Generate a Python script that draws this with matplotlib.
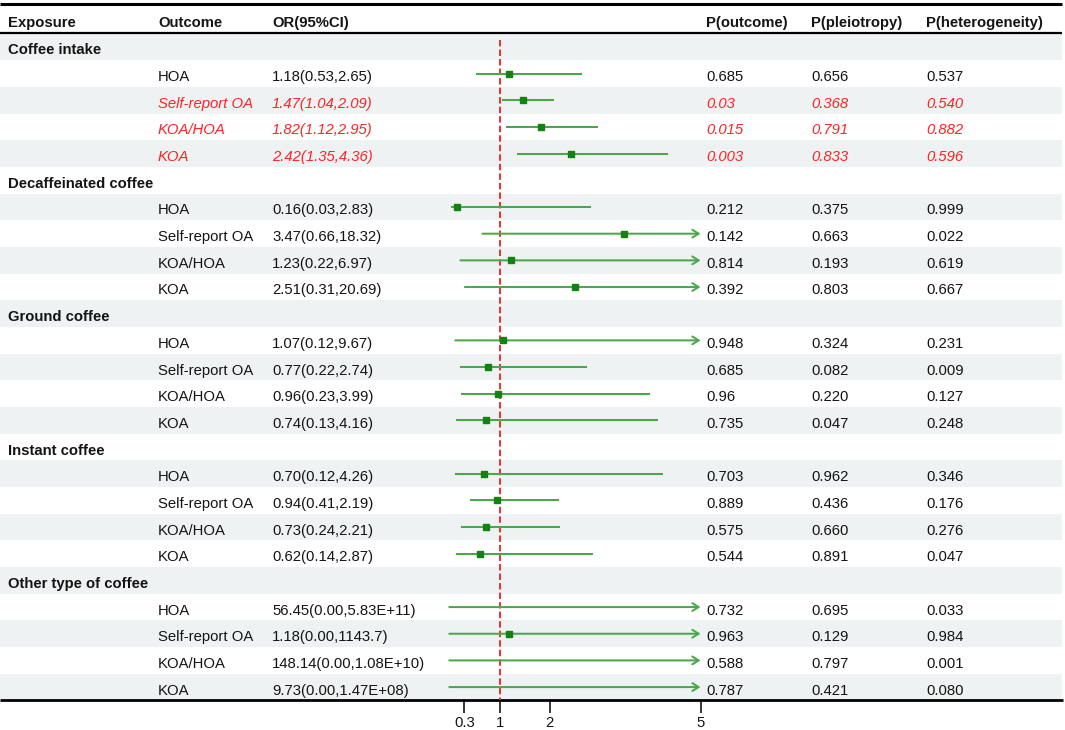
import matplotlib
matplotlib.use("Agg")
import matplotlib.pyplot as plt
import numpy as np

# ---------------- data ----------------
exposures = ["Coffee intake", "Decaffeinated coffee", "Ground coffee",
             "Instant coffee", "Other type of coffee"]
outcomes = ["HOA", "Self-report OA", "KOA/HOA", "KOA"]

or_est = [1.18, 1.47, 1.82, 2.42,
          0.16, 3.47, 1.23, 2.51,
          1.07, 0.77, 0.96, 0.74,
          0.70, 0.94, 0.73, 0.62,
          56.45, 1.18, 148.14, 9.73]
ci_low = [0.53, 1.04, 1.12, 1.35,
          0.03, 0.66, 0.22, 0.31,
          0.12, 0.22, 0.23, 0.13,
          0.12, 0.41, 0.24, 0.14,
          0.00, 0.00, 0.00, 0.00]
ci_high = [2.65, 2.09, 2.95, 4.36,
           2.83, 18.32, 6.97, 20.69,
           9.67, 2.74, 3.99, 4.16,
           4.26, 2.19, 2.21, 2.87,
           5.83e11, 1143.7, 1.08e10, 1.47e8]
ci_text = ["1.18(0.53,2.65)", "1.47(1.04,2.09)", "1.82(1.12,2.95)", "2.42(1.35,4.36)",
           "0.16(0.03,2.83)", "3.47(0.66,18.32)", "1.23(0.22,6.97)", "2.51(0.31,20.69)",
           "1.07(0.12,9.67)", "0.77(0.22,2.74)", "0.96(0.23,3.99)", "0.74(0.13,4.16)",
           "0.70(0.12,4.26)", "0.94(0.41,2.19)", "0.73(0.24,2.21)", "0.62(0.14,2.87)",
           "56.45(0.00,5.83E+11)", "1.18(0.00,1143.7)", "148.14(0.00,1.08E+10)",
           "9.73(0.00,1.47E+08)"]
p_outcome = ["0.685", "0.03", "0.015", "0.003",
             "0.212", "0.142", "0.814", "0.392",
             "0.948", "0.685", "0.96", "0.735",
             "0.703", "0.889", "0.575", "0.544",
             "0.732", "0.963", "0.588", "0.787"]
p_pleiotropy = ["0.656", "0.368", "0.791", "0.833",
                "0.375", "0.663", "0.193", "0.803",
                "0.324", "0.082", "0.220", "0.047",
                "0.962", "0.436", "0.660", "0.891",
                "0.695", "0.129", "0.797", "0.421"]
p_heterogeneity = ["0.537", "0.540", "0.882", "0.596",
                   "0.999", "0.022", "0.619", "0.667",
                   "0.231", "0.009", "0.127", "0.248",
                   "0.346", "0.176", "0.276", "0.047",
                   "0.033", "0.984", "0.001", "0.080"]
headers = ["Exposure", "Outcome", "OR(95%CI)", "P(outcome)", "P(pleiotropy)",
           "P(heterogeneity)"]
xticks = [0.3, 1, 2, 5]
xtick_labels = ["0.3", "1", "2", "5"]
ref_line = 1
x_range = (0, 5)

# ---------------- style ----------------
plt.rcParams['font.family'] = ['Liberation Sans', 'DejaVu Sans']
FS = 10.7
TXT = '#141414'
RED = '#ff2424'
LINE_G = '#4aa84a'
BOX_G = '#128212'
BAND = '#eef2f2'

W, H = 1065, 730
fig = plt.figure(figsize=(W / 100, H / 100), dpi=100)

row_h = 26.67
row0 = 47.0
top_px, bot_px = 3.0, 700.5
y_top = (top_px - row0) / row_h
y_bot = (bot_px - row0) / row_h
ax_bottom = (H - bot_px) / H
ax_height = (bot_px - top_px) / H

axT = fig.add_axes([0, ax_bottom, 1, ax_height])
axT.set_xlim(0, W)
axT.set_ylim(y_bot, y_top)
axT.axis('off')

plot_l, plot_r = 449.3, 700.5
axF = fig.add_axes([plot_l / W, ax_bottom, (plot_r - plot_l) / W, ax_height],
                   sharey=axT)
axF.set_facecolor('none')
axF.set_xlim(*x_range)

# rows
n_rows = len(exposures) * (len(outcomes) + 1)
for r in range(0, n_rows, 2):
    axT.axhspan(r - 0.5, r + 0.5, xmin=0, xmax=1062 / W, color=BAND, lw=0, zorder=0)

# horizontal rules
axT.plot([0, 1062], [y_top + 0.04, y_top + 0.04], color='black', lw=2.2,
         clip_on=False, solid_capstyle='butt')
axT.plot([0, 1062], [-0.53, -0.53], color='black', lw=1.6, solid_capstyle='butt')
axT.plot([0, 1063], [y_bot - 0.005, y_bot - 0.005], color='black', lw=2.0,
         clip_on=False, solid_capstyle='butt')

col_x = [8, 158, 272, 706, 811, 926]
for cx, h in zip(col_x, headers):
    axT.text(cx, -0.74, h, fontsize=FS, fontweight='bold', color=TXT,
             va='baseline', ha='left')

base_off = 0.28
k = 0
for g, expo in enumerate(exposures):
    gr = g * (len(outcomes) + 1)
    axT.text(col_x[0], gr + base_off, expo, fontsize=FS, fontweight='bold',
             color=TXT, va='baseline', ha='left')
    for j, outc in enumerate(outcomes):
        r = gr + 1 + j
        sig = float(p_outcome[k]) < 0.05
        col = RED if sig else TXT
        sty = 'italic' if sig else 'normal'
        for cx, s in zip(col_x[1:], [outc, ci_text[k], p_outcome[k],
                                     p_pleiotropy[k], p_heterogeneity[k]]):
            axT.text(cx, r + base_off, s, fontsize=FS, color=col, style=sty,
                     va='baseline', ha='left')
        lo = max(ci_low[k], x_range[0])
        hi = ci_high[k]
        if hi > x_range[1]:
            axF.annotate('', xy=(x_range[1], r), xytext=(lo, r),
                         arrowprops=dict(arrowstyle='->,head_length=0.45,head_width=0.28',
                                         color=LINE_G, lw=1.45, shrinkA=0, shrinkB=0,
                                         mutation_scale=10),
                         annotation_clip=False, zorder=3)
        else:
            axF.plot([lo, hi], [r, r], color=LINE_G, lw=1.45,
                     solid_capstyle='butt', zorder=3)
        if x_range[0] <= or_est[k] <= x_range[1]:
            axF.plot([or_est[k]], [r], marker='s', ms=5, color=BOX_G,
                     mec=BOX_G, lw=0, zorder=4)
        k += 1

axF.plot([ref_line, ref_line], [-0.25, y_bot], color='#ee3030', lw=1.4,
         linestyle=(0, (3.3, 1.6)), zorder=2, clip_on=False)

for s in axF.spines.values():
    s.set_visible(False)
axF.set_xticks(xticks)
axF.set_xticklabels(xtick_labels)
axF.tick_params(axis='x', direction='out', length=8.3, width=1.2, pad=3.2,
                labelsize=FS, colors=TXT)
axF.tick_params(axis='y', left=False, labelleft=False)
axF.set_ylim(y_bot, y_top)

fig.savefig('out.png', dpi=100)
